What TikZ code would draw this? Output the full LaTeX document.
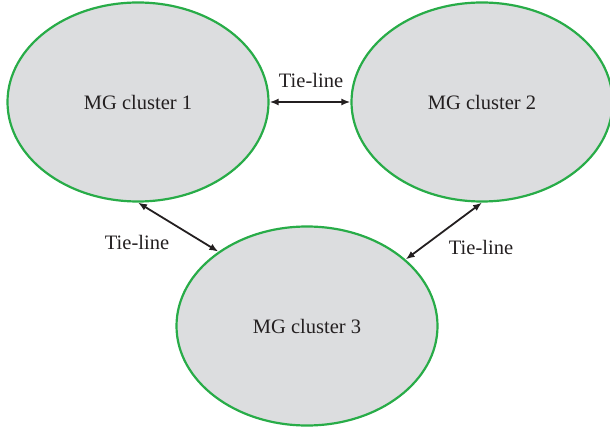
\documentclass[tikz,border=0pt]{standalone}
\usepackage{fontspec}
\setmainfont{Liberation Serif}
\usetikzlibrary{shapes.geometric,arrows.meta}
\definecolor{ringgreen}{RGB}{40,172,72}
\definecolor{cellgray}{RGB}{220,221,223}
\definecolor{linkblack}{RGB}{35,31,32}
\tikzset{
  cluster/.style={ellipse, draw=ringgreen, fill=cellgray, line width=2.2pt,
    minimum width=261pt, minimum height=199pt, inner sep=0pt,
    text=linkblack, font=\fontsize{20.5}{24}\selectfont},
  tieline/.style={{Latex[length=9pt,width=7pt]}-{Latex[length=9pt,width=7pt]},
    line width=1.8pt, draw=linkblack},
  tielabel/.style={text=linkblack, font=\fontsize{20.5}{24}\selectfont, inner sep=0pt}
}
\begin{document}
\begin{tikzpicture}[x=1pt,y=-1pt]
  \useasboundingbox (0,0) rectangle (610,430);
  % microgrid clusters
  \node[cluster] (c1) at (138,102) {MG cluster 1};
  \node[cluster] (c2) at (482,102) {MG cluster 2};
  \node[cluster] (c3) at (307,326) {MG cluster 3};
  % tie-lines between clusters
  \draw[tieline] (c1.east) -- (c2.west);
  \draw[tieline] (c1.south) -- (c3.140);
  \draw[tieline] (c2.south) -- (c3.34);
  % labels
  \node[tielabel] (t12) at (311,80) {Tie-line};
  \node[tielabel] (t13) at (137,242) {Tie-line};
  \node[tielabel] (t23) at (481,247) {Tie-line};
\end{tikzpicture}
\end{document}
